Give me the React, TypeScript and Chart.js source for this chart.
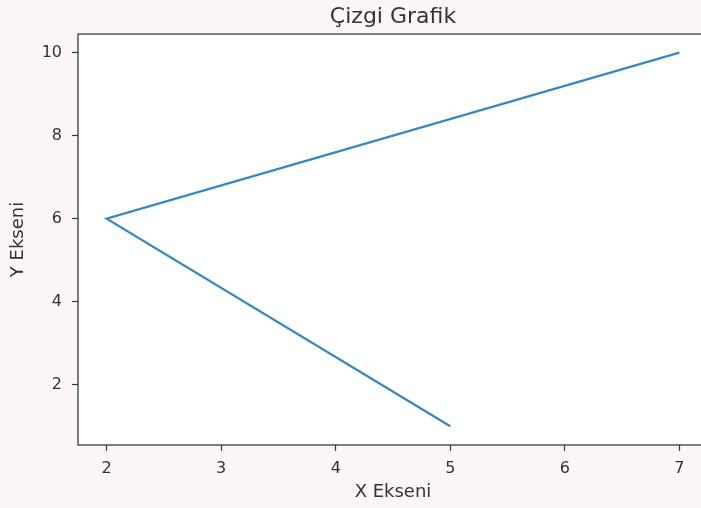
import React, { useEffect, useRef } from "react";
import { Chart, registerables } from "chart.js";

Chart.register(...registerables);

const xValues = [5, 2, 7];
const yValues = [1, 6, 10];
const xTicks = [2, 3, 4, 5, 6, 7];
const yTicks = [2, 4, 6, 8, 10];
const titleText = "Çizgi Grafik";
const xLabel = "X Ekseni";
const yLabel = "Y Ekseni";

const FONT = "'DejaVu Sans', sans-serif";
const TEXT = "#333333";
const AXIS = "#3a3a3a";

const bgPlugin = {
  id: "bgPlugin",
  beforeDraw(chart: any) {
    const { ctx, chartArea } = chart;
    ctx.save();
    ctx.fillStyle = "#fcf6f7";
    ctx.fillRect(0, 0, chart.width, chart.height);
    ctx.fillStyle = "#ffffff";
    ctx.fillRect(chartArea.left, chartArea.top, chartArea.right - chartArea.left, chartArea.bottom - chartArea.top);
    ctx.restore();
  },
  afterDraw(chart: any) {
    const { ctx, chartArea } = chart;
    ctx.save();
    ctx.strokeStyle = AXIS;
    ctx.lineWidth = 1.3;
    ctx.strokeRect(chartArea.left, chartArea.top, chartArea.right - chartArea.left, chartArea.bottom - chartArea.top);
    ctx.restore();
  },
};

export default function App() {
  const ref = useRef<HTMLCanvasElement | null>(null);
  useEffect(() => {
    if (!ref.current) return;
    const chart = new Chart(ref.current, {
      type: "line",
      data: {
        datasets: [
          {
            data: xValues.map((x, i) => ({ x, y: yValues[i] })),
            borderColor: "#3b87c2",
            borderWidth: 2.3,
            pointRadius: 0,
            fill: false,
            tension: 0,
          },
        ],
      },
      options: {
        animation: false,
        responsive: false,
        maintainAspectRatio: false,
        layout: { padding: { left: 0, right: 0, top: 0, bottom: 0 } },
        plugins: {
          legend: { display: false },
          tooltip: { enabled: false },
          title: {
            display: true,
            text: titleText,
            fullSize: false,
            color: TEXT,
            font: { family: FONT, size: 22, weight: "normal", lineHeight: 1.2 },
            padding: { top: 4, bottom: 3.6 },
          },
        },
        scales: {
          x: {
            type: "linear",
            min: 1.75,
            max: 7.25,
            afterBuildTicks: (s: any) => {
              s.ticks = xTicks.map((v) => ({ value: v }));
            },
            afterFit: (s: any) => {
              s.height = 63;
            },
            border: { display: false },
            grid: { drawOnChartArea: false, drawTicks: true, tickLength: 6, tickColor: AXIS, tickWidth: 1.2 },
            ticks: { color: TEXT, font: { family: FONT, size: 16 }, padding: 8, maxRotation: 0 },
            title: { display: true, text: xLabel, color: TEXT, font: { family: FONT, size: 18, lineHeight: 1.2 }, padding: { top: 0, bottom: 5 } },
          },
          y: {
            type: "linear",
            min: 0.55,
            max: 10.45,
            afterBuildTicks: (s: any) => {
              s.ticks = yTicks.map((v) => ({ value: v }));
            },
            afterFit: (s: any) => {
              s.width = 78;
            },
            border: { display: false },
            grid: { drawOnChartArea: false, drawTicks: true, tickLength: 6, tickColor: AXIS, tickWidth: 1.2 },
            ticks: { color: TEXT, font: { family: FONT, size: 16 }, padding: 10 },
            title: { display: true, text: yLabel, color: TEXT, font: { family: FONT, size: 18, lineHeight: 1.2 }, padding: { top: 8, bottom: 0 } },
          },
        },
      },
      plugins: [bgPlugin],
    });
    return () => chart.destroy();
  }, []);
  return (
    <div style={{ position: "fixed", left: 0, top: 0, width: 701, height: 508, overflow: "hidden", background: "#fcf6f7" }}>
      <canvas ref={ref} width={708} height={508} style={{ display: "block", width: 708, height: 508 }} />
    </div>
  );
}
